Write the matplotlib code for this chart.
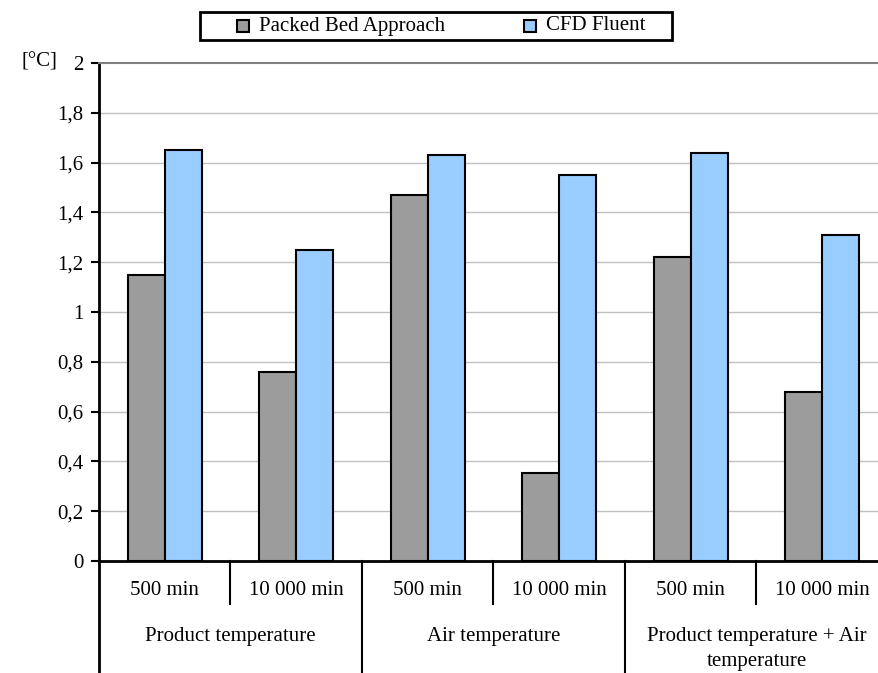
import matplotlib
matplotlib.use("Agg")
import matplotlib.pyplot as plt
from matplotlib.ticker import FuncFormatter
from matplotlib.patches import Rectangle

plt.rcParams['font.family'] = ['Liberation Serif', 'DejaVu Serif']

groups = ["Product temperature", "Air temperature", "Product temperature + Air\ntemperature"]
sub_labels = ["500 min", "10 000 min"]
packed_bed = [1.15, 0.76, 1.47, 0.355, 1.22, 0.68]
cfd_fluent = [1.65, 1.25, 1.63, 1.55, 1.64, 1.31]
series_names = ["Packed Bed Approach", "CFD Fluent"]
yticks = [0, 0.2, 0.4, 0.6, 0.8, 1.0, 1.2, 1.4, 1.6, 1.8, 2.0]

FS = 15
W, H = 879, 673
fig = plt.figure(figsize=(W / 100, H / 100), dpi=100)
left, right, bottom, top = 99, 888, 561, 63
ax = fig.add_axes([left / W, (H - bottom) / H, (right - left) / W, (bottom - top) / H])

n = len(packed_bed)
x = [i + 0.5 for i in range(n)]
bw = 0.28
gray = "#9c9c9c"
blue = "#99ccff"
ax.bar([xi - bw / 2 for xi in x], packed_bed, width=bw, color=gray, edgecolor="black", linewidth=1.5, zorder=3)
ax.bar([xi + bw / 2 for xi in x], cfd_fluent, width=bw, color=blue, edgecolor="black", linewidth=1.5, zorder=3)

ax.set_xlim(0, n)
ax.set_ylim(0, 2)
ax.set_yticks(yticks)
ax.yaxis.set_major_formatter(FuncFormatter(lambda v, p: ("%g" % round(v, 1)).replace(".", ",")))
ax.tick_params(axis="y", direction="out", length=6, width=1.5, labelsize=FS, pad=5)
ax.set_xticks([])
for yv in yticks[1:-1]:
    ax.axhline(yv, color="#c0c0c0", linewidth=1, zorder=1)

ax.spines["left"].set_linewidth(2)
ax.spines["bottom"].set_linewidth(2)
ax.spines["top"].set_color("#808080")
ax.spines["top"].set_linewidth(1.5)
ax.spines["right"].set_visible(False)

tr = ax.get_xaxis_transform()
# category table lines below axis
ax.plot([0, 0], [0, -0.25], color="black", lw=2, transform=tr, clip_on=False)
for i in range(1, n):
    depth = -0.25 if i % 2 == 0 else -0.087
    ax.plot([i, i], [0, depth], color="black", lw=1.5, transform=tr, clip_on=False)

for i, xi in enumerate(x):
    ax.text(xi, -0.059, sub_labels[i % 2], transform=tr, ha="center", va="center", fontsize=FS)
for g, name in enumerate(groups):
    lines = name.split("\n")
    for k, line in enumerate(lines):
        ax.text(2 * g + 1, -0.152 - 0.05 * k, line, transform=tr, ha="center", va="center", fontsize=FS)

fig.text(39 / W, 1 - 62 / H, "[°C]", ha="center", va="center", fontsize=FS)

# legend box (figure pixel coordinates)
def fx(px):
    return px / W

def fy(py):
    return 1 - py / H

fig.patches.append(Rectangle((fx(200), fy(40)), fx(672) - fx(200), fy(12) - fy(40),
                             transform=fig.transFigure, facecolor="white", edgecolor="black",
                             linewidth=2, zorder=5))
for (sx, tx), name, col in zip([(237, 259), (524, 546)], series_names, [gray, blue]):
    fig.patches.append(Rectangle((fx(sx), fy(32)), fx(12), 12 / H, transform=fig.transFigure,
                                 facecolor=col, edgecolor="black", linewidth=1.5, zorder=6))
    fig.text(fx(tx), fy(26), name, ha="left", va="center", fontsize=FS, zorder=7)

fig.savefig("out.png", dpi=100)
